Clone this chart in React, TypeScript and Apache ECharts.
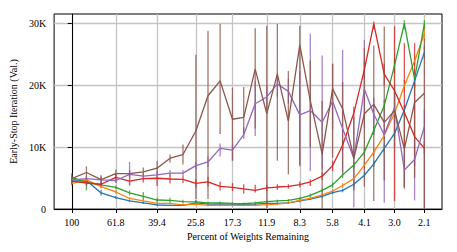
import React, { useEffect, useRef } from 'react';
import * as echarts from 'echarts';

// Percent of weights remaining at each pruning iteration
const percentRemaining = [100, 85.2, 72.6, 61.8, 53.2, 45.8, 39.4, 34.2, 29.7, 25.8, 22.6, 19.8, 17.3, 15.3, 13.5, 11.9, 10.6, 9.4, 8.3, 7.4, 6.5, 5.8, 5.2, 4.6, 4.1, 3.7, 3.3, 2.95, 2.65, 2.37, 2.13];
const xTickIndices = [0, 3, 6, 9, 12, 15, 18, 21, 24, 27, 30];
const xTickLabels = ['100', '61.8', '39.4', '25.8', '17.3', '11.9', '8.3', '5.8', '4.1', '3.0', '2.1'];
const yTickValues = [0, 10000, 20000, 30000];
const yTickLabels = ['0', '10K', '20K', '30K'];

const blueMean = [4700, 4600, 2600, 1850, 1300, 1000, 650, 600, 600, 1000, 800, 800, 800, 750, 800, 900, 900, 1000, 1300, 1600, 2050, 2650, 3000, 4000, 5450, 7300, 9800, 12200, 16000, 20700, 25300];
const blueLow = [4300, 4200, 2200, 1600, 1100, 800, 500, 500, 500, 600, 600, 600, 600, 600, 600, 700, 700, 800, 1100, 1400, 1800, 2400, 2700, 3600, 5000, 6800, 9200, 11500, 15200, 19800, 24300];
const blueHigh = [5100, 5000, 3100, 2100, 1500, 1200, 800, 700, 800, 1400, 1000, 1000, 1000, 900, 1000, 1100, 1100, 1200, 1500, 1800, 2300, 2900, 3300, 4400, 5900, 7800, 10400, 12900, 16800, 21600, 26300];

const orangeMean = [4100, 4700, 3600, 2750, 1700, 1300, 900, 900, 650, 800, 600, 600, 600, 600, 600, 700, 800, 1000, 1400, 1700, 2300, 2900, 3800, 4900, 7100, 9200, 11900, 15500, 19900, 23900, 28300];
const orangeLow = [3800, 4300, 3300, 2450, 1500, 1100, 750, 750, 500, 600, 450, 450, 450, 450, 450, 550, 600, 800, 1200, 1500, 2000, 2600, 3400, 4500, 6600, 8600, 11200, 14700, 19000, 23000, 27300];
const orangeHigh = [4500, 5100, 3900, 3050, 1900, 1500, 1050, 1050, 800, 1000, 750, 750, 750, 750, 750, 850, 1000, 1200, 1600, 1900, 2600, 3200, 4200, 5300, 7600, 9800, 12600, 16300, 20800, 24800, 29300];

const greenMean = [5100, 4300, 3900, 3500, 2600, 2050, 1450, 1400, 1200, 1150, 1000, 970, 900, 850, 1000, 1200, 1300, 1400, 1700, 2200, 3000, 3900, 5500, 7100, 9200, 12700, 16700, 23200, 30000, 21000, 29900];
const greenLow = [4000, 3000, 3500, 3200, 2200, 1400, 1100, 1000, 900, 900, 800, 750, 700, 650, 800, 1000, 1100, 1200, 1500, 1900, 2700, 3500, 5000, 6600, 8600, 12000, 15800, 22000, 29000, 19500, 29000];
const greenHigh = [5800, 4900, 4300, 3800, 3000, 2750, 1800, 1800, 1500, 1400, 1200, 1200, 1100, 1050, 1200, 1400, 1500, 1600, 1900, 2500, 3300, 4300, 6000, 7600, 9800, 13400, 17600, 24400, 30500, 22500, 30500];

const redMean = [4500, 4200, 4000, 5100, 4500, 4900, 4970, 4850, 4800, 4150, 4370, 3670, 3500, 3250, 3000, 3400, 3550, 3650, 3950, 4400, 5300, 7000, 10300, 15500, 22500, 29900, 21800, 19100, 15600, 11700, 9800];
const redLow = [4000, 3700, 3500, 4300, 3800, 4300, 3700, 4100, 4200, 3500, 3600, 3000, 2900, 2500, 2650, 2900, 3100, 3300, 3500, 3700, 4700, 6100, 9500, 14500, 21000, 29000, 20000, 1300, 3600, 7000, 8800];
const redHigh = [5000, 4700, 4500, 5800, 5450, 5500, 5300, 5600, 5400, 4800, 5200, 4400, 4200, 4000, 3900, 3900, 4000, 4000, 4400, 4800, 5900, 7800, 11200, 16500, 24000, 30300, 23500, 29500, 26800, 26800, 10800];

const purpleMean = [4700, 4900, 4700, 4600, 5600, 5300, 5500, 5800, 5800, 7000, 7600, 9800, 9500, 12000, 17000, 18100, 20200, 19000, 15200, 15900, 14000, 17400, 13000, 8200, 19400, 15300, 12000, 16400, 6300, 8000, 13300];
const purpleLow = [4300, 4500, 4200, 4200, 3800, 4800, 5000, 5300, 5400, 6500, 6800, 8500, 7800, 11300, 11800, 16000, 18000, 17000, 7200, 6100, 6400, 12900, 5700, 300, 13000, 12000, 1000, 14000, 3500, 1400, 0];
const purpleHigh = [5100, 5300, 5500, 5000, 7600, 5800, 6000, 6300, 6300, 7500, 8500, 10600, 10400, 13200, 20700, 20000, 22000, 21000, 22300, 28300, 24800, 23500, 25700, 14700, 27300, 18000, 16000, 19000, 8800, 12000, 16000];

const brownMean = [4900, 5900, 4750, 5700, 5700, 6000, 6600, 8200, 8800, 12600, 18300, 20700, 14500, 14800, 22600, 15400, 21800, 14200, 26500, 17500, 8850, 19400, 16200, 8200, 15400, 16900, 14000, 15900, 9700, 17200, 18700];
const brownLow = [4500, 4600, 4000, 5000, 5200, 5400, 5400, 7500, 7200, 1600, 1600, 12100, 7800, 12100, 13000, 200, 7800, 5600, 6900, 10000, 0, 8300, 6000, 3000, 3600, 1300, 4600, 10000, 3300, 5000, 0];
const brownHigh = [5400, 6900, 5300, 6400, 6300, 6700, 7800, 8800, 10400, 24900, 28800, 29900, 19600, 19700, 29200, 29600, 29900, 22300, 29600, 24000, 17500, 23400, 20500, 14800, 26000, 26400, 29500, 20000, 16000, 20000, 27500];

const seriesDefs = [
  { name: 'blue', color: '#1f77b4', mean: blueMean, low: blueLow, high: blueHigh },
  { name: 'orange', color: '#ff7f0e', mean: orangeMean, low: orangeLow, high: orangeHigh },
  { name: 'green', color: '#2ca02c', mean: greenMean, low: greenLow, high: greenHigh },
  { name: 'red', color: '#d62728', mean: redMean, low: redLow, high: redHigh },
  { name: 'purple', color: '#9467bd', mean: purpleMean, low: purpleLow, high: purpleHigh },
  { name: 'brown', color: '#8c564b', mean: brownMean, low: brownLow, high: brownHigh },
];

const FONT = '"Liberation Serif", "DejaVu Serif", serif';

const toX = (p: number) => Math.log10(100 / p);

export default function App() {
  const ref = useRef<HTMLDivElement>(null);

  useEffect(() => {
    if (!ref.current) return;
    const chart = echarts.init(ref.current, null, { renderer: 'svg' });

    const xs = percentRemaining.map(toX);
    const dataMin = Math.min(...xs);
    const dataMax = Math.max(...xs);
    const pad = (dataMax - dataMin) * 0.05;
    const xTickValues = xTickIndices.map((i) => xs[i]);
    const xFormatter = (v: number) => {
      let best = 0;
      let bd = Infinity;
      xTickValues.forEach((t, i) => {
        const d = Math.abs(t - v);
        if (d < bd) { bd = d; best = i; }
      });
      return xTickLabels[best];
    };
    const yFormatter = (v: number) => {
      const i = yTickValues.indexOf(v);
      return i >= 0 ? yTickLabels[i] : '';
    };

    const series: any[] = [];
    seriesDefs.forEach((s) => {
      series.push({
        type: 'custom',
        name: s.name + '-err',
        data: xs.map((x, i) => [x, s.low[i], s.high[i]]),
        renderItem: (params: any, api: any) => {
          const p1 = api.coord([api.value(0), api.value(1)]);
          const p2 = api.coord([api.value(0), api.value(2)]);
          return {
            type: 'line',
            shape: { x1: p1[0], y1: p1[1], x2: p2[0], y2: p2[1] },
            style: { stroke: s.color, lineWidth: 1.3, opacity: 0.8 },
          };
        },
        silent: true,
      });
      series.push({
        type: 'line',
        name: s.name,
        data: xs.map((x, i) => [x, s.mean[i]]),
        showSymbol: false,
        symbol: 'none',
        lineStyle: { color: s.color, width: 1.3 },
        itemStyle: { color: s.color },
        silent: true,
      });
    });

    chart.setOption({
      animation: false,
      textStyle: { fontFamily: FONT },
      grid: {
        left: 51, top: 14, width: 391, height: 195,
        show: true, borderColor: '#000', borderWidth: 1,
      },
      xAxis: {
        type: 'value',
        min: dataMin - pad,
        max: dataMax + pad,
        name: 'Percent of Weights Remaining',
        nameLocation: 'middle',
        nameGap: 22,
        nameTextStyle: { fontSize: 10, color: '#000', fontFamily: FONT },
        axisLine: { show: true, onZero: false, lineStyle: { color: '#000', width: 1 } },
        axisTick: { show: true, length: 4, customValues: xTickValues, lineStyle: { color: '#000', width: 1 } },
        axisLabel: { customValues: xTickValues, formatter: xFormatter, margin: 8, fontSize: 10, color: '#000', fontFamily: FONT },
        splitLine: { show: true, lineStyle: { color: '#c4c4c4', width: 1.3 } },
      },
      yAxis: {
        type: 'value',
        min: 0,
        max: 31500,
        name: 'Early-Stop Iteration (Val.)',
        nameLocation: 'middle',
        nameGap: 30,
        nameTextStyle: { fontSize: 10, color: '#000', fontFamily: FONT },
        axisLine: { show: true, lineStyle: { color: '#000', width: 1 } },
        axisTick: { show: true, length: 4, customValues: yTickValues, lineStyle: { color: '#000', width: 1 } },
        axisLabel: { customValues: yTickValues, formatter: yFormatter, margin: 8, fontSize: 10, color: '#000', fontFamily: FONT },
        splitLine: { show: true, lineStyle: { color: '#c4c4c4', width: 1.3 } },
      },
      series,
    });

    return () => chart.dispose();
  }, []);

  return (
    <div
      ref={ref}
      style={{ position: 'fixed', left: 0, top: 0, width: 457, height: 252, background: '#fff' }}
    />
  );
}
